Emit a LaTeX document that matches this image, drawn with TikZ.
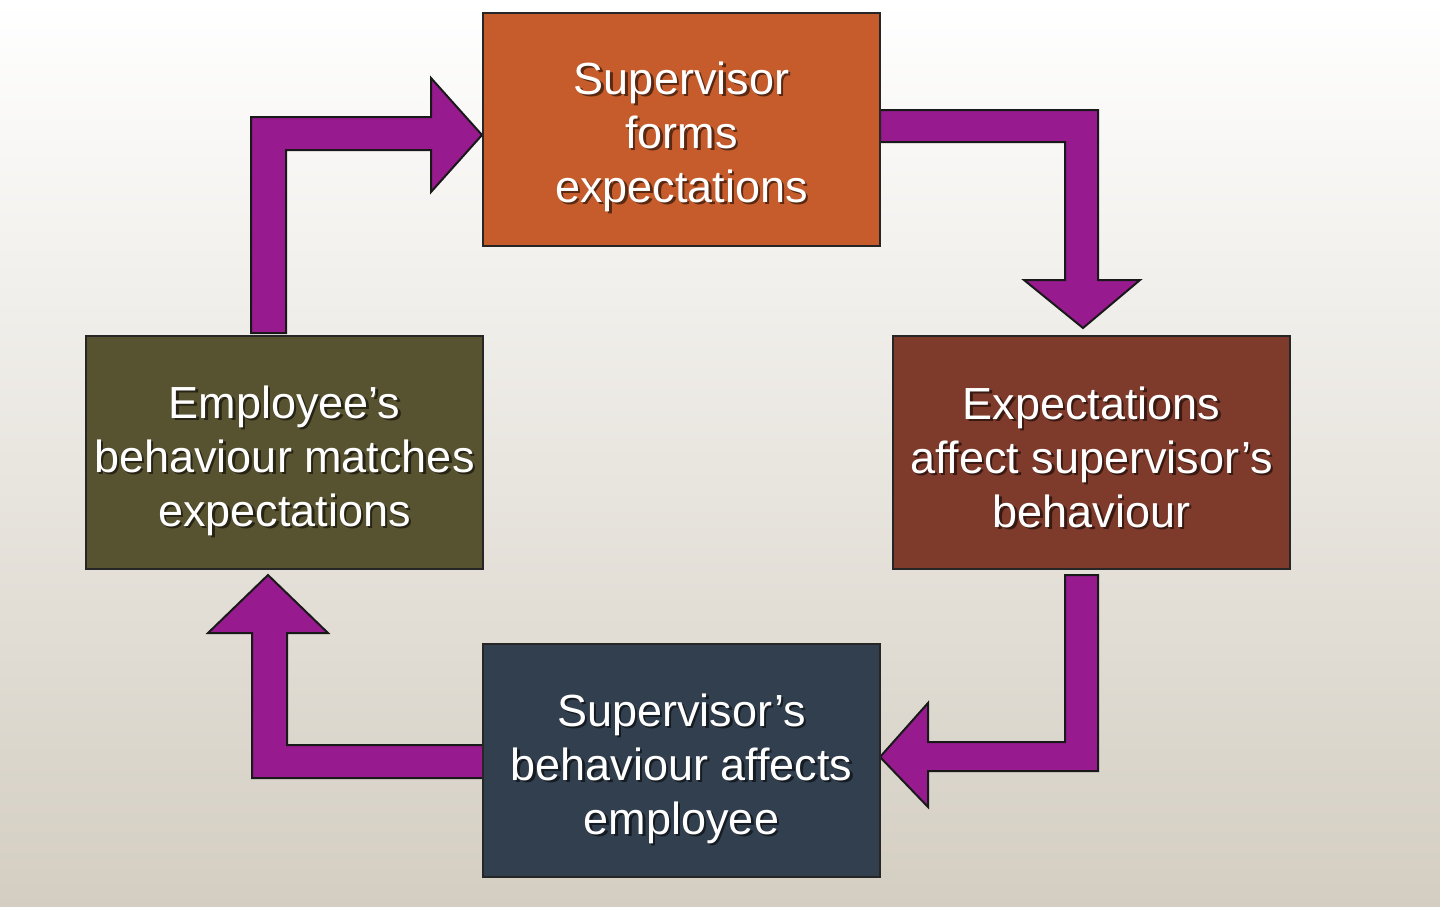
\documentclass[tikz,border=0pt]{standalone}
\usepackage{fontspec}
\setmainfont{Liberation Sans}
\definecolor{bgtop}{HTML}{FFFFFF}
\definecolor{bgbot}{HTML}{D4CEC2}
\definecolor{cOrange}{HTML}{C65C2B}
\definecolor{cBrown}{HTML}{7E3A2B}
\definecolor{cSlate}{HTML}{323F4E}
\definecolor{cOlive}{HTML}{57522F}
\definecolor{cPurple}{HTML}{981A8F}
\begin{document}
\begin{tikzpicture}[x=1pt,y=-1pt,
  box/.style={draw=black!85, line width=2pt, minimum width=397pt, minimum height=233pt, inner sep=0pt},
  blockarrow/.style={fill=cPurple, draw=black!90, line width=2pt, line join=miter},
  lbl/.style={text=white, align=center, font=\fontsize{45}{54}\selectfont},
  shd/.style={text=black, opacity=0.55, align=center, font=\fontsize{45}{54}\selectfont}]
\fill[top color=bgtop, bottom color=bgbot] (0,0) rectangle (1440,906);
\useasboundingbox (0,0) rectangle (1440,906);
% block arrows
\draw[blockarrow] (251,333) -- (251,117) -- (431,117) -- (431,78) -- (482,135) -- (431,192) -- (431,150) -- (286,150) -- (286,333) -- cycle;
\draw[blockarrow] (880,110) -- (1098,110) -- (1098,280) -- (1140,280) -- (1083,328) -- (1024,280) -- (1065,280) -- (1065,142) -- (880,142) -- cycle;
\draw[blockarrow] (1065,575) -- (1098,575) -- (1098,771) -- (928,771) -- (928,807) -- (880,757) -- (928,703) -- (928,742) -- (1065,742) -- cycle;
\draw[blockarrow] (483,745) -- (483,778) -- (252,778) -- (252,633) -- (208,633) -- (268,575) -- (328,633) -- (287,633) -- (287,745) -- cycle;
% boxes
\node[box, fill=cOrange] (top) at (681.5,129.5) {};
\node[box, fill=cBrown] (right) at (1091.5,452) {};
\node[box, fill=cSlate] (bottom) at (681.5,760) {};
\node[box, fill=cOlive] (left) at (284.5,452) {};
% labels with shadow
\node[shd] (topS) at ([shift={(2.5,9.5)}]top.center) {Supervisor\\forms\\expectations};
\node[lbl] (topT) at ([shift={(0,7)}]top.center) {Supervisor\\forms\\expectations};
\node[shd] (rightS) at ([shift={(2.5,7.5)}]right.center) {Expectations\\affect supervisor’s\\behaviour};
\node[lbl] (rightT) at ([shift={(0,5)}]right.center) {Expectations\\affect supervisor’s\\behaviour};
\node[shd] (bottomS) at ([shift={(2.5,11)}]bottom.center) {Supervisor’s\\behaviour affects\\employee};
\node[lbl] (bottomT) at ([shift={(0,8.5)}]bottom.center) {Supervisor’s\\behaviour affects\\employee};
\node[shd] (leftS) at ([shift={(2.5,11)}]left.center) {Employee’s\\behaviour matches\\expectations};
\node[lbl] (leftT) at ([shift={(0,8.5)}]left.center) {Employee’s\\behaviour matches\\expectations};
\end{tikzpicture}
\end{document}
